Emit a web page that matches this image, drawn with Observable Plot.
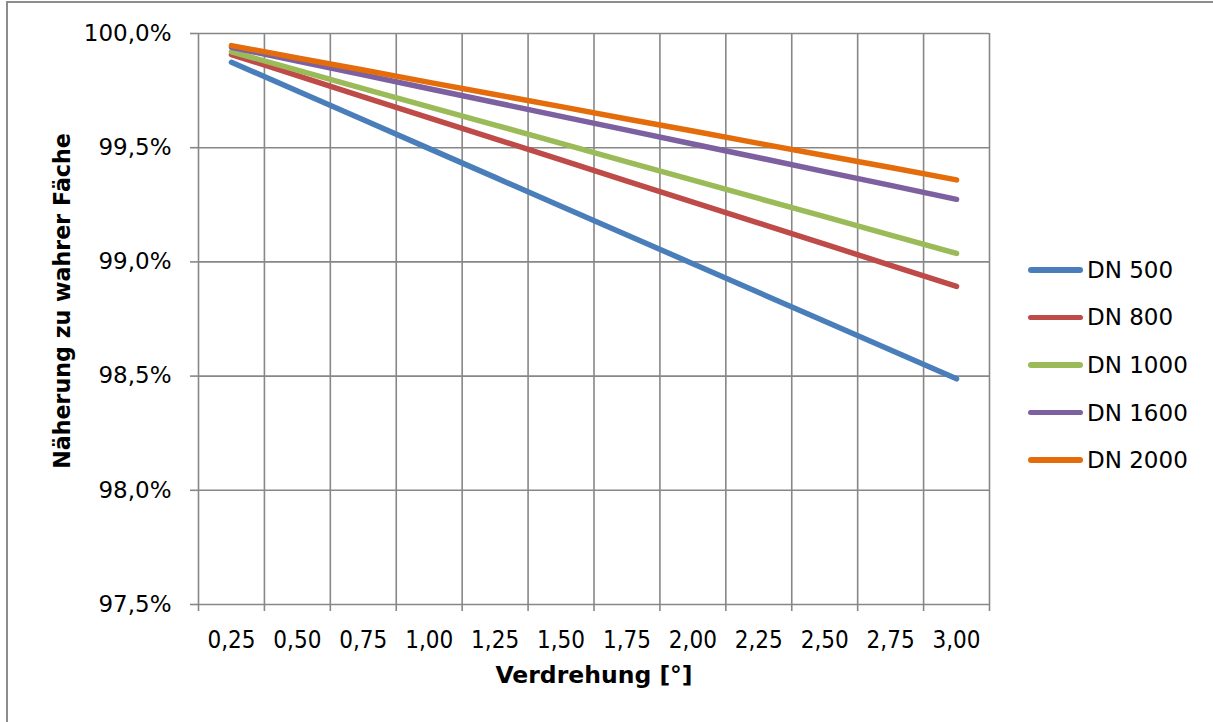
<!DOCTYPE html>
<html>
<head>
<meta charset="utf-8">
<script src="https://cdn.jsdelivr.net/npm/d3@7"></script>
<script src="https://cdn.jsdelivr.net/npm/@observablehq/plot@0.6"></script>
<style>
  html, body { margin: 0; padding: 0; background: #fff; }
  body { width: 1213px; height: 722px; position: relative; overflow: hidden; font-family: "DejaVu Sans", Verdana, sans-serif; }
  #frame { position: absolute; left: 6px; top: 1px; width: 1300px; height: 800px; border: 2px solid #8c8c8c; box-sizing: border-box; }
  #chart { position: absolute; left: 0; top: 0; }
  #legend { position: absolute; left: 1028px; top: 246px; }
  .item { display: flex; align-items: center; height: 47.6px; font-size: 23px; color: #000; }
  .swatch { width: 55px; height: 5.5px; border-radius: 3px; margin-right: 4px; }
</style>
</head>
<body>
<div id="frame"></div>
<div id="chart"></div>
<div id="legend"></div>
<script>
// Twist angle in degrees (categories on the x axis)
const angles = [0.25, 0.50, 0.75, 1.00, 1.25, 1.50, 1.75, 2.00, 2.25, 2.50, 2.75, 3.00];
const angleLabels = ["0,25", "0,50", "0,75", "1,00", "1,25", "1,50", "1,75", "2,00", "2,25", "2,50", "2,75", "3,00"];

// Approximation relative to the true area, in percent
const dn500  = [99.874, 99.748, 99.622, 99.496, 99.370, 99.244, 99.118, 98.992, 98.866, 98.740, 98.614, 98.488];
const dn800  = [99.908, 99.816, 99.723, 99.631, 99.539, 99.447, 99.354, 99.262, 99.170, 99.078, 98.985, 98.893];
const dn1000 = [99.920, 99.840, 99.759, 99.679, 99.599, 99.519, 99.438, 99.358, 99.278, 99.198, 99.117, 99.037];
const dn1600 = [99.940, 99.879, 99.819, 99.758, 99.698, 99.637, 99.577, 99.516, 99.456, 99.395, 99.335, 99.274];
const dn2000 = [99.947, 99.893, 99.840, 99.786, 99.733, 99.680, 99.626, 99.573, 99.519, 99.466, 99.413, 99.359];

const seriesNames = ["DN 500", "DN 800", "DN 1000", "DN 1600", "DN 2000"];
const seriesValues = [dn500, dn800, dn1000, dn1600, dn2000];
const seriesColors = ["#4a7ebb", "#be4b48", "#9bbb59", "#7d60a0", "#e46c0a"];

const yTicks = [97.5, 98.0, 98.5, 99.0, 99.5, 100.0];

const yTitle = "Näherung zu wahrer Fäche";
const xTitle = "Verdrehung [°]";

// Long-format table for the line marks
const rows = seriesNames.flatMap((name, i) =>
  angles.map((a, j) => ({series: name, angle: a, value: seriesValues[i][j]}))
);

// Category boundaries: halfway between neighbouring angles, plus both outer edges
const step = angles[1] - angles[0];
const boundaries = [angles[0] - step / 2, ...angles.map(a => a + step / 2)];

const grid = "#878787";
const fmtY = d => d.toFixed(1).replace(".", ",") + "%";
const fmtX = d => angleLabels[angles.indexOf(d)];
const condensed = "'DejaVu Sans Condensed', 'DejaVu Sans', sans-serif";

const chart = Plot.plot({
  width: 1213,
  height: 722,
  marginLeft: 198,
  marginRight: 224,
  marginTop: 33,
  marginBottom: 118,
  style: {fontFamily: "'DejaVu Sans', Verdana, sans-serif", background: "transparent"},
  x: {type: "linear", domain: [boundaries[0], boundaries[boundaries.length - 1]]},
  y: {domain: [97.5, 100]},
  marks: [
    Plot.gridX(boundaries, {stroke: grid, strokeOpacity: 1, strokeWidth: 1.6}),
    Plot.gridY(yTicks, {stroke: grid, strokeOpacity: 1, strokeWidth: 1.6}),
    Plot.axisY({
      ticks: yTicks, tickFormat: fmtY, tickSize: 8, tickPadding: 19,
      stroke: grid, strokeWidth: 1.6, fontSize: 23, fill: "#000", label: null
    }),
    Plot.axisX({
      ticks: boundaries, tickFormat: () => "", tickSize: 7,
      stroke: grid, strokeWidth: 1.6, label: null
    }),
    Plot.axisX({
      ticks: angles, tickFormat: fmtX, tickSize: 0, tickPadding: 26,
      fontSize: 24, fill: "#000", label: null,
      fontFamily: condensed, fontStretch: "condensed"
    }),
    ...seriesNames.map((name, i) =>
      Plot.lineY(rows.filter(r => r.series === name), {
        x: "angle", y: "value", stroke: seriesColors[i],
        strokeWidth: 5.5, strokeLinecap: "round", strokeLinejoin: "round"
      })
    ),
    Plot.text([yTitle], {
      frameAnchor: "left", dx: -136, dy: -18, rotate: -90, textAnchor: "middle",
      fontSize: 22.2, fontWeight: "bold", fill: "#000"
    }),
    Plot.text([xTitle], {
      frameAnchor: "bottom", dy: 78, textAnchor: "middle",
      fontSize: 23.5, fontWeight: "bold", fill: "#000"
    })
  ]
});
document.getElementById("chart").appendChild(chart);

// Legend to the right of the plot area
const legend = document.getElementById("legend");
seriesNames.forEach((name, i) => {
  const item = document.createElement("div");
  item.className = "item";
  const sw = document.createElement("div");
  sw.className = "swatch";
  sw.style.background = seriesColors[i];
  const label = document.createElement("span");
  label.textContent = name;
  item.appendChild(sw);
  item.appendChild(label);
  legend.appendChild(item);
});
</script>
</body>
</html>
